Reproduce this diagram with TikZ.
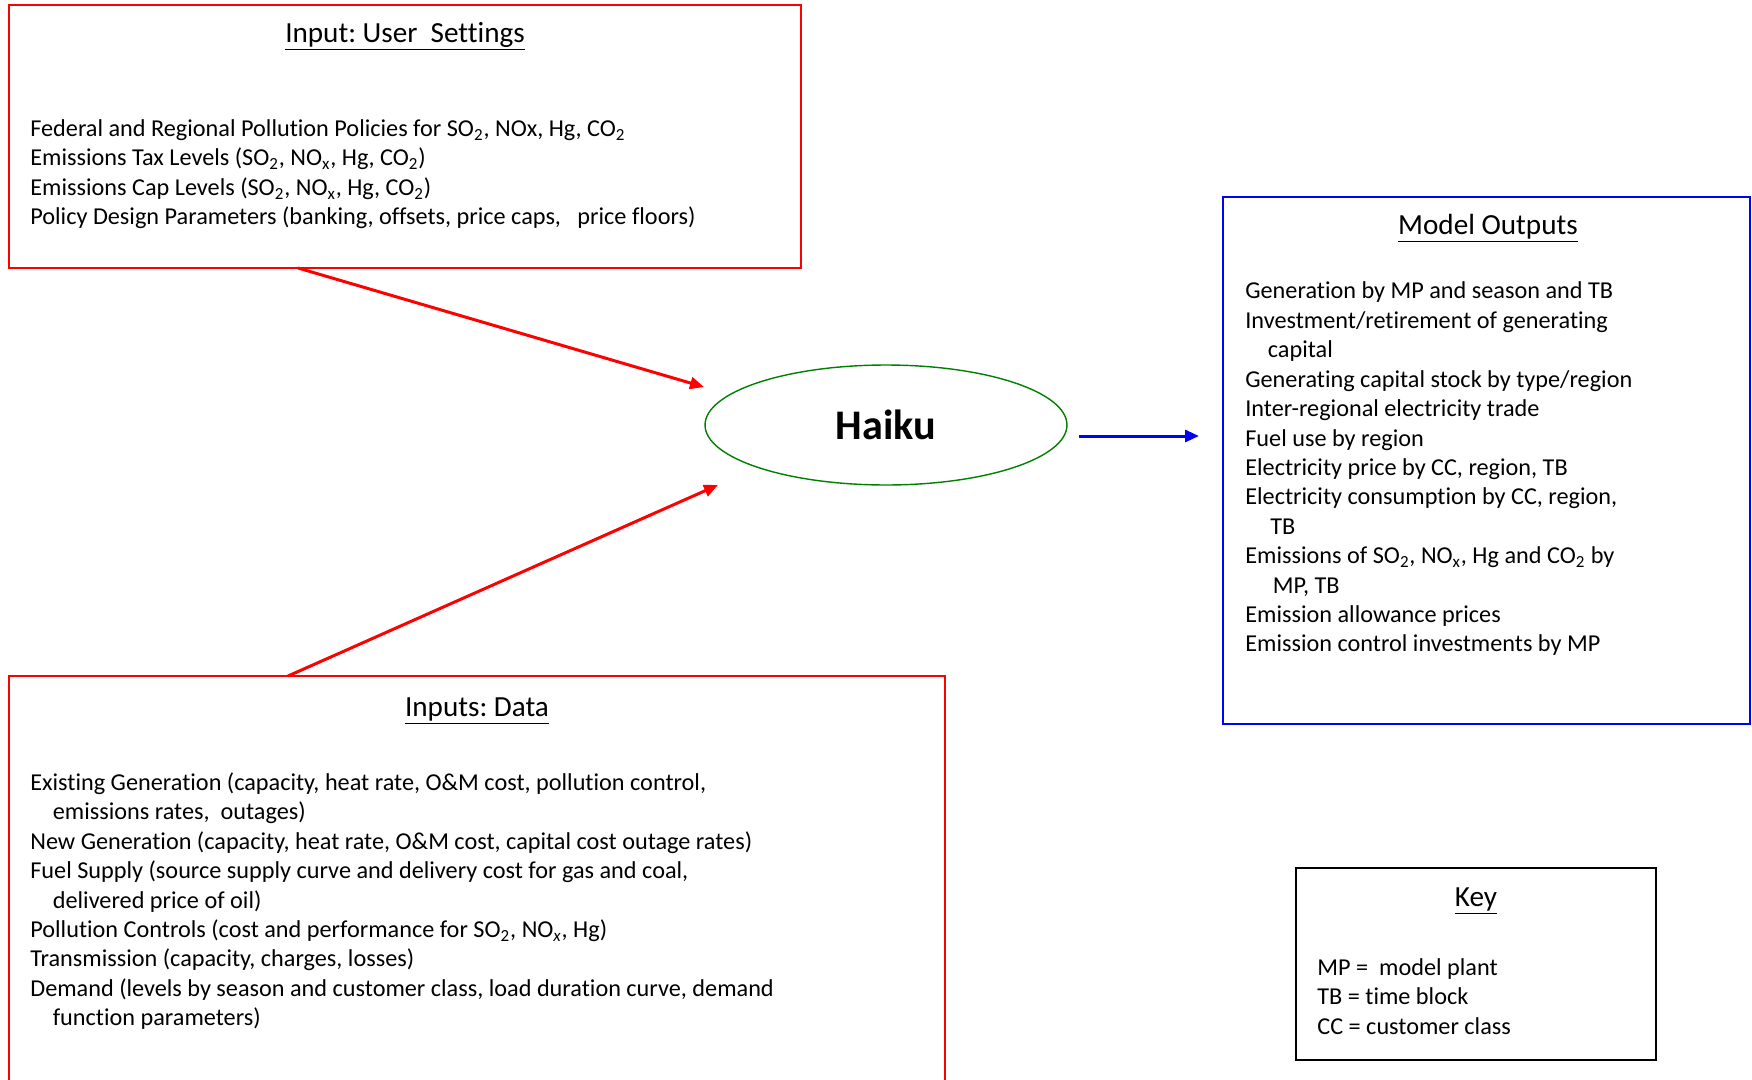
\documentclass[tikz,border=0pt]{standalone}
\usepackage{fontspec}
\setmainfont[Ligatures=NoCommon]{Carlito}
\usetikzlibrary{shapes.geometric,arrows.meta,calc}
\definecolor{dgreen}{RGB}{0,128,0}
\frenchspacing
\begin{document}
\begin{tikzpicture}[x=0.02cm,y=-0.02cm,
  box/.style={draw,line width=1.1pt,inner sep=0pt},
  body/.style={anchor=north west,inner sep=0pt,align=left,font=\fontsize{13.8}{16.74}\selectfont},
  ttl/.style={anchor=base,inner sep=0pt,font=\fontsize{16.6}{19}\selectfont},
  redarrow/.style={draw=red,line width=1.7pt,-{Triangle[length=0.28cm,width=0.24cm]}},
  bluearrow/.style={draw=blue,line width=1.7pt,-{Triangle[length=0.28cm,width=0.24cm]}}]
\useasboundingbox (0,0) rectangle (1752,1079);
\clip (0,0) rectangle (1752,1079);
\fill[white] (0,0) rectangle (1752,1079);

% boxes
\node[box,draw=red,minimum width=15.84cm,minimum height=5.26cm] (ubox) at (405,136.5) {};
\node[box,draw=red,minimum width=18.72cm,minimum height=8.48cm] (dbox) at (477,888) {};
\node[box,draw=blue,minimum width=10.54cm,minimum height=10.54cm] (obox) at (1486.5,460.5) {};
\node[box,draw=black,minimum width=7.2cm,minimum height=3.84cm] (kbox) at (1476,964) {};

% titles
\node[ttl] (ut) at (405,42) {\underline{Input: User\ \ Settings}};
\node[ttl] (dt) at (477,716) {\underline{Inputs: Data}};
\node[ttl] (ot) at (1488,234) {\underline{Model Outputs}};
\node[ttl] (kt) at (1476,906) {\underline{Key}};

% texts
\node[body] (utext) at (30,115.5) {\strut Federal and Regional Pollution Policies for SO\textsubscript{2}, NOx, Hg, CO\textsubscript{2}\\
Emissions Tax Levels (SO\textsubscript{2}, NO\textsubscript{x}, Hg, CO\textsubscript{2})\\
Emissions Cap Levels (SO\textsubscript{2}, NO\textsubscript{x}, Hg, CO\textsubscript{2})\\
Policy Design Parameters (banking, offsets, price caps,\ \ \ price floors)};

\node[body] (dtext) at (30,769.5) {\strut Existing Generation (capacity, heat rate, O\&M cost, pollution control,\\
\hspace*{0.45cm}emissions rates,\ \ outages)\\
New Generation (capacity, heat rate, O\&M cost, capital cost outage rates)\\
Fuel Supply (source supply curve and delivery cost for gas and coal,\\
\hspace*{0.45cm}delivered price of oil)\\
Pollution Controls (cost and performance for SO\textsubscript{2}, NO\textsubscript{\itshape x}, Hg)\\
Transmission (capacity, charges, losses)\\
Demand (levels by season and customer class, load duration curve, demand\\
\hspace*{0.45cm}function parameters)};

\node[body] (otext) at (1245,278) {\strut Generation by MP and season and TB\\
Investment/retirement of generating\\
\hspace*{0.45cm}capital\\
Generating capital stock by type/region\\
Inter-regional electricity trade\\
Fuel use by region\\
Electricity price by CC, region, TB\\
Electricity consumption by CC, region,\\
\hspace*{0.5cm}TB\\
Emissions of SO\textsubscript{2}, NO\textsubscript{x}, Hg and CO\textsubscript{2} by\\
\hspace*{0.55cm}MP, TB\\
Emission allowance prices\\
Emission control investments by MP};

\node[body] (ktext) at (1317,954.5) {\strut MP =\ \ model plant\\
TB = time block\\
CC = customer class};

% Haiku
\node[draw=dgreen,line width=0.8pt,ellipse,minimum width=7.24cm,minimum height=2.4cm,inner sep=0pt,
  font=\fontsize{24}{28}\selectfont\bfseries] (haiku) at (886,425) {Haiku};

% connectors
\coordinate (a1s) at (298,268);
\coordinate (a1e) at (704,387);
\coordinate (a2s) at (288,676);
\coordinate (a2e) at (718,485);
\coordinate (a3s) at (1079,436);
\coordinate (a3e) at (1199,436);
\draw[redarrow] (a1s) -- (a1e);
\draw[redarrow] (a2s) -- (a2e);
\draw[bluearrow] (a3s) -- (a3e);
\end{tikzpicture}
\end{document}
